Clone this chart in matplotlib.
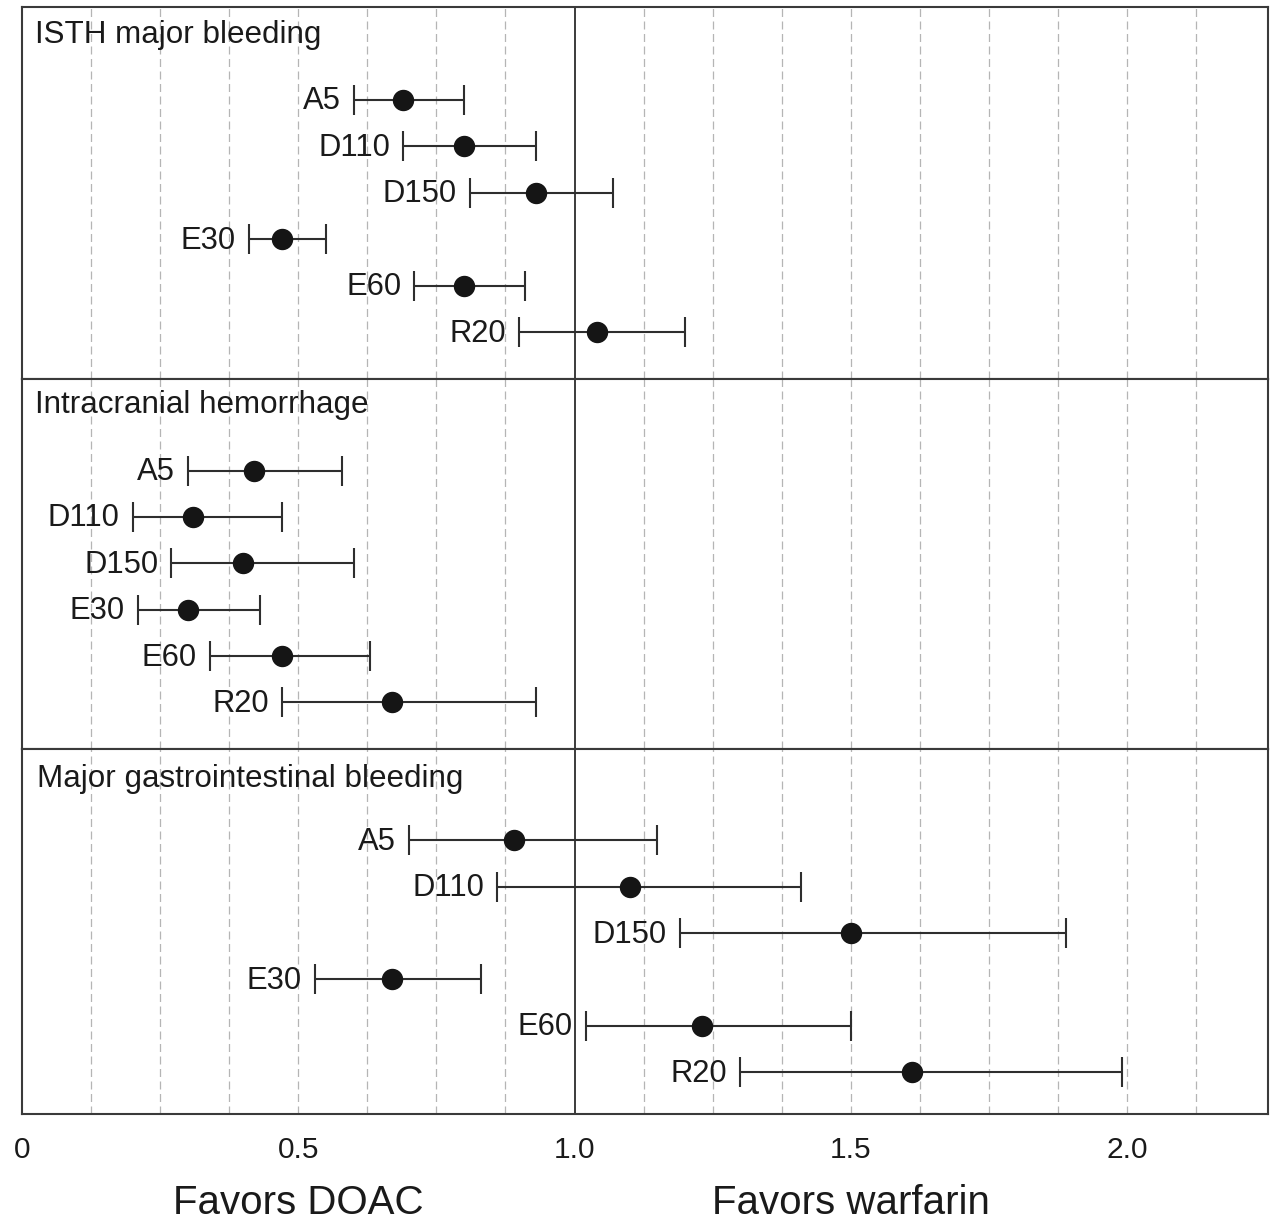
import matplotlib
matplotlib.use("Agg")
import matplotlib.pyplot as plt
import matplotlib.transforms as mtransforms
import numpy as np

plt.rcParams['font.family'] = ['Liberation Sans', 'DejaVu Sans']

# ---- data ----
drugs = ["A5", "D110", "D150", "E30", "E60", "R20"]
panel_titles = ["ISTH major bleeding", "Intracranial hemorrhage",
                "Major gastrointestinal bleeding"]

isth_est = [0.69, 0.80, 0.93, 0.47, 0.80, 1.04]
isth_lo  = [0.60, 0.69, 0.81, 0.41, 0.71, 0.90]
isth_hi  = [0.80, 0.93, 1.07, 0.55, 0.91, 1.20]

ich_est = [0.42, 0.31, 0.40, 0.30, 0.47, 0.67]
ich_lo  = [0.30, 0.20, 0.27, 0.21, 0.34, 0.47]
ich_hi  = [0.58, 0.47, 0.60, 0.43, 0.63, 0.93]

gi_est = [0.89, 1.10, 1.50, 0.67, 1.23, 1.61]
gi_lo  = [0.70, 0.86, 1.19, 0.53, 1.02, 1.30]
gi_hi  = [1.15, 1.41, 1.89, 0.83, 1.50, 1.99]

xtick_vals = [0, 0.5, 1.0, 1.5, 2.0]
xtick_labels = ["0", "0.5", "1.0", "1.5", "2.0"]
favor_labels = ["Favors DOAC", "Favors warfarin"]
favor_pos = [0.5, 1.5]

panels = [(isth_est, isth_lo, isth_hi),
          (ich_est, ich_lo, ich_hi),
          (gi_est, gi_lo, gi_hi)]

# ---- figure ----
W, H = 1276, 1222
fig = plt.figure(figsize=(W / 100, H / 100), dpi=100)
gs = fig.add_gridspec(3, 1, height_ratios=[372, 370.5, 365], hspace=0,
                      left=22 / W, right=1268 / W, top=1 - 7 / H, bottom=1 - 1113.5 / H)
axes = [fig.add_subplot(gs[i]) for i in range(3)]

ylims = [(6.0, -2.0), (6.0, -1.98), (5.89, -1.97)]
title_pos = [(0.0104, 0.9024), (0.0104, 0.906), (0.0123, 0.895)]
grid_x = np.arange(0.125, 2.25, 0.125)

for i, ax in enumerate(axes):
    est, lo, hi = panels[i]
    est = np.array(est); lo = np.array(lo); hi = np.array(hi)
    ypos = np.arange(len(drugs))
    ax.set_xlim(0, 2.255)
    ax.set_ylim(*ylims[i])
    for gx in grid_x:
        if abs(gx - 1.0) < 1e-9:
            continue
        ax.axvline(gx, color='#b5b5b5', lw=0.9, linestyle=(0, (6.4, 3.6)), zorder=0)
    ax.axvline(1.0, color='#1a1a1a', lw=1.2, zorder=1)
    ax.errorbar(est, ypos, xerr=[est - lo, hi - est], fmt='o',
                color='#151515', ecolor='#2e2e2e', elinewidth=1.5,
                capsize=10.5, capthick=1.5, markersize=14.4, zorder=3)
    for name, l, y in zip(drugs, lo, ypos):
        ax.annotate(name, xy=(l, y), xytext=(-13, -1.5), textcoords='offset pixels',
                    ha='right', va='center', fontsize=22.3, color='#1a1a1a')
    ax.text(title_pos[i][0], title_pos[i][1], panel_titles[i], transform=ax.transAxes,
            ha='left', va='baseline', fontsize=22.6, color='#1a1a1a')
    ax.set_yticks([])
    for sp in ax.spines.values():
        sp.set_linewidth(1.5)
        sp.set_color('#3a3a3a')
    if i < 2:
        ax.tick_params(axis='x', which='both', bottom=False, labelbottom=False)
    else:
        ax.set_xticks(xtick_vals)
        ax.set_xticklabels(xtick_labels)
        ax.tick_params(axis='x', length=0, pad=16.5, labelsize=21.5, labelcolor='#1a1a1a')

trans = mtransforms.blended_transform_factory(axes[2].transData, fig.transFigure)
for lab, xp in zip(favor_labels, favor_pos):
    axes[2].text(xp, 1 - 1213.5 / H, lab, transform=trans, ha='center',
                 va='baseline', fontsize=29, color='#1a1a1a')

fig.savefig("out.png", dpi=100)
